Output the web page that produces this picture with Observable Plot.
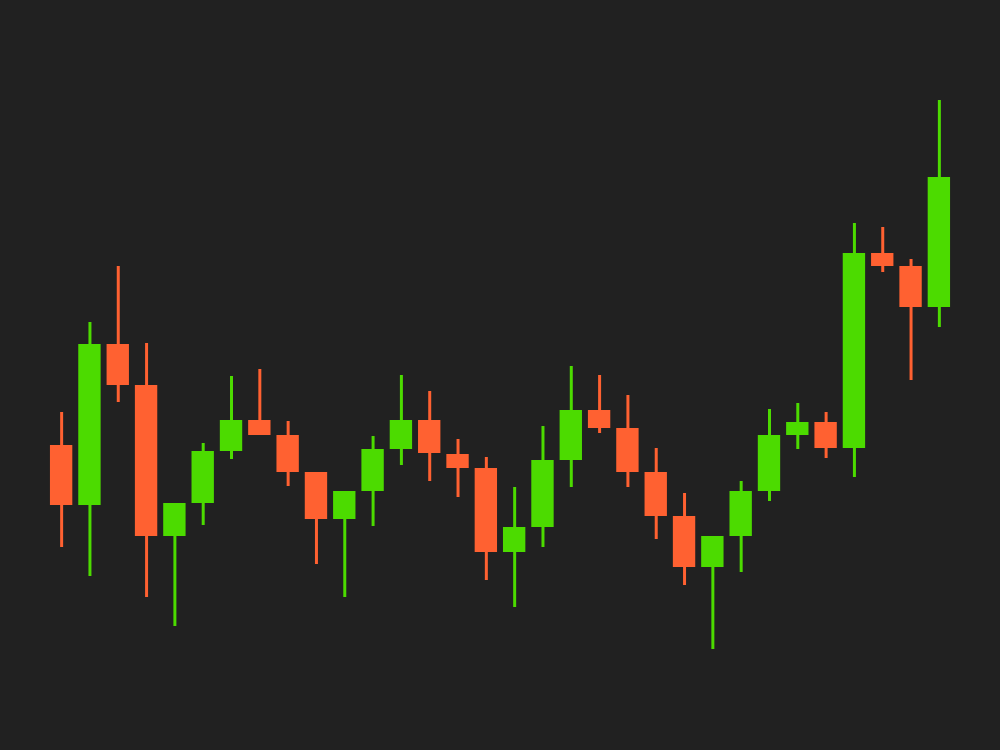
<!DOCTYPE html>
<html>
<head>
<meta charset="utf-8">
<script src="https://cdn.jsdelivr.net/npm/d3@7"></script>
<script src="https://cdn.jsdelivr.net/npm/@observablehq/plot@0.6"></script>
<style>
  html, body { margin: 0; padding: 0; background: #212121; }
  #chart svg { display: block; }
</style>
</head>
<body>
<div id="chart"></div>
<script>
const sessions = d3.range(1, 33);
const openValues  = [305,245,406,365,214,247,299,330,315,278,231,259,301,330,296,282,198,223,290,340,322,278,234,183,214,259,315,328,302,497,484,443];
const closeValues = [245,406,365,214,247,299,330,315,278,231,259,301,330,297,282,198,223,290,340,322,278,234,183,214,259,315,328,302,497,484,443,573];
const highValues  = [338,428,484,407,247,307,374,381,329,278,259,314,375,359,311,293,263,324,384,375,355,302,257,214,269,341,347,338,527,523,491,650];
const lowValues   = [203,174,348,153,124,225,291,315,264,186,153,224,285,269,253,170,143,203,263,317,263,211,165,101,178,249,301,292,273,478,370,423];

const UP = "#4cdb00";
const DOWN = "#ff6131";

const candles = sessions.map((s, i) => ({
  session: s,
  open: openValues[i],
  close: closeValues[i],
  high: highValues[i],
  low: lowValues[i],
  dir: closeValues[i] >= openValues[i] ? "up" : "down"
}));

const chart = Plot.plot({
  width: 1000,
  height: 750,
  marginLeft: 44,
  marginRight: 44,
  marginTop: 0,
  marginBottom: 0,
  style: { background: "#212121" },
  x: { type: "band", domain: sessions, padding: 0.21, round: false, axis: null },
  y: { domain: [0, 750], axis: null },
  color: { domain: ["up", "down"], range: [UP, DOWN] },
  marks: [
    Plot.ruleX(candles, { x: "session", y1: "low", y2: "high", stroke: "dir", strokeWidth: 3 }),
    Plot.barY(candles, { x: "session", y1: "open", y2: "close", fill: "dir" })
  ]
});
document.getElementById("chart").appendChild(chart);
</script>
</body>
</html>
